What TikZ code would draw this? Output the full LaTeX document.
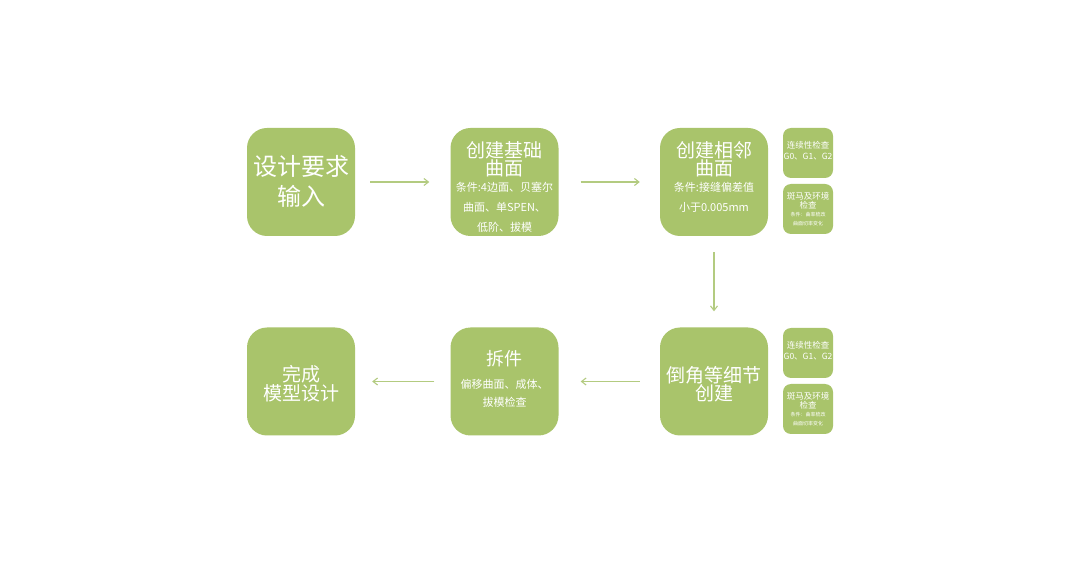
\documentclass[tikz,border=0pt]{standalone}
\usepackage{fontspec}
\setmainfont{Noto Sans CJK SC}
\usetikzlibrary{arrows.meta}
\definecolor{boxg}{HTML}{A9C46B}
\definecolor{arrg}{HTML}{B3CB80}
\tikzset{
  bigbox/.style={fill=boxg, rounded corners=20pt, minimum width=108pt, minimum height=108pt, inner sep=0pt, draw=none},
  smallbox/.style={fill=boxg, rounded corners=8pt, minimum width=50pt, minimum height=50pt, inner sep=0pt, draw=none},
  txt/.style={text=white, align=center, inner sep=0pt},
  arr/.style={draw=arrg, line width=1.1pt, -{Straight Barb[length=4.5pt,width=7pt]}, shorten <=17pt, shorten >=19pt}
}
\begin{document}
\begin{tikzpicture}[x=1pt,y=-1pt]
\useasboundingbox (0,0) rectangle (1080,569);
\fill[white] (0,0) rectangle (1080,569);
% row 1
\node[bigbox] (b1) at (301,182) {};
\node[txt, font=\fontsize{24}{30}\selectfont] (b1t) at (301,181) {设计要求\\输入};
\node[bigbox] (b2) at (504.5,182) {};
\node[txt, font=\fontsize{19}{18}\selectfont] (b2t) at (504.5,159) {创建基础\\曲面};
\node[txt, font=\fontsize{11}{20}\selectfont] (b2s) at (504.5,207) {条件:4边面、贝塞尔\\曲面、单SPEN、\\低阶、拔模};
\node[bigbox] (b3) at (714,182) {};
\node[txt, font=\fontsize{19}{18}\selectfont] (b3t) at (714,159) {创建相邻\\曲面};
\node[txt, font=\fontsize{11}{20}\selectfont] (b3s) at (714,197) {条件:接缝偏差值\\小于0.005mm};
\node[smallbox] (s1) at (808,153) {};
\node[txt, font=\fontsize{8.5}{11}\selectfont] (s1t) at (808,151) {连续性检查\\G0、G1、G2};
\node[smallbox] (s2) at (808,209) {};
\node[txt, font=\fontsize{8.5}{9}\selectfont] (s2t) at (808,200.5) {斑马及环境\\检查};
\node[txt, font=\fontsize{5}{9}\selectfont] (s2s) at (808,219.5) {条件：曲率梳改\\曲面切率变化};
% row 2
\node[bigbox] (b4) at (714,381.5) {};
\node[txt, font=\fontsize{19}{18}\selectfont] (b4t) at (714,384) {倒角等细节\\创建};
\node[smallbox] (s3) at (808,353) {};
\node[txt, font=\fontsize{8.5}{11}\selectfont] (s3t) at (808,351) {连续性检查\\G0、G1、G2};
\node[smallbox] (s4) at (808,409) {};
\node[txt, font=\fontsize{8.5}{9}\selectfont] (s4t) at (808,400.5) {斑马及环境\\检查};
\node[txt, font=\fontsize{5}{9}\selectfont] (s4s) at (808,419.5) {条件：曲率梳改\\曲面切率变化};
\node[bigbox] (b5) at (504.5,381.5) {};
\node[txt, font=\fontsize{18}{18}\selectfont] (b5t) at (504.5,359) {拆件};
\node[txt, font=\fontsize{11}{18}\selectfont] (b5s) at (504.5,393) {偏移曲面、成体、\\拔模检查};
\node[bigbox] (b6) at (301,381.5) {};
\node[txt, font=\fontsize{19}{17}\selectfont] (b6t) at (301,383.5) {完成\\模型设计};
% arrows
\draw[arr, shorten <=15pt, shorten >=21pt] (b1) -- (b2);
\draw[arr, shorten <=22pt, shorten >=20pt] (b2) -- (b3);
\draw[arr, shorten <=16pt, shorten >=16pt] (b3) -- (b4);
\draw[arr, shorten <=20pt, shorten >=22pt] (b4) -- (b5);
\draw[arr, shorten <=16pt, shorten >=17pt] (b5) -- (b6);
\end{tikzpicture}
\end{document}
